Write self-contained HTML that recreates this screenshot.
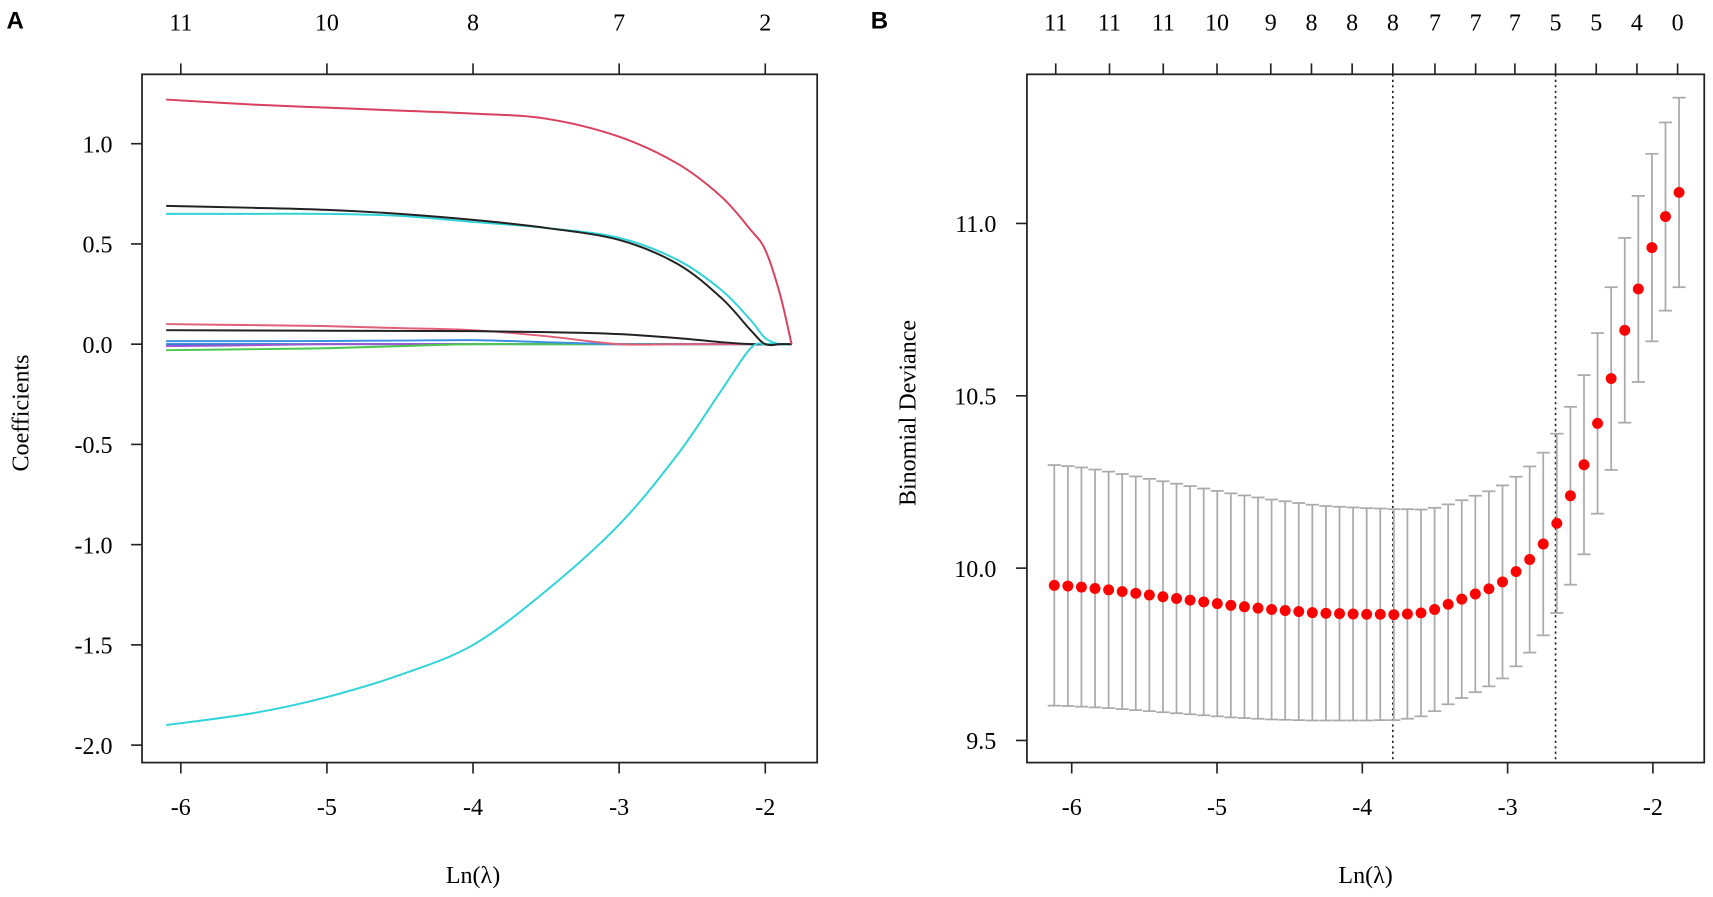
<!DOCTYPE html>
<html><head><meta charset="utf-8"><style>
html,body{margin:0;padding:0;background:#fff;}
svg{display:block;font-family:"Liberation Serif",serif;}
.pl{font-family:"Liberation Sans",sans-serif;font-weight:bold;font-size:22px;}
</style></head><body>
<svg id="fig" width="1713" height="897" viewBox="0 0 1568 821">
<g id="A"></g>
<g id="B"></g>
</svg>
<script>
// ---- Panel A data ----
const lnGridA = [-6.1,-5.5,-5,-4.5,-4,-3.5,-3,-2.6,-2.3,-2.1,-2.0,-1.9,-1.82];
const coefRed    = [1.22,1.195,1.18,1.165,1.15,1.125,1.035,0.90,0.735,0.57,0.47,0.25,0];
const coefBlack  = [0.69,0.68,0.67,0.65,0.62,0.58,0.52,0.40,0.23,0.07,0,0,0];
const coefCyanUp = [0.65,0.65,0.65,0.64,0.61,0.58,0.53,0.42,0.27,0.12,0.03,0,0];
const coefCyanLo = [-1.90,-1.84,-1.76,-1.65,-1.50,-1.23,-0.90,-0.55,-0.23,-0.02,0,0,0];
const coefPink   = [0.10,0.095,0.09,0.08,0.07,0.04,0,0,0,0,0,0,0];
const coefBlack2 = [0.07,0.068,0.067,0.066,0.065,0.06,0.05,0.03,0.01,0,0,0,0];
const coefBlue   = [0.015,0.015,0.016,0.018,0.02,0.01,0,0,0,0,0,0,0];
const coefGreen  = [-0.03,-0.025,-0.02,-0.01,0,0,0,0,0,0,0,0,0];
const coefPurple = [-0.01,-0.005,0,0,0,0,0,0,0,0,0,0,0];
const coefBlue0  = [0,0,0,0,0,0,0,0,0,0,0,0,0];
const seriesA = [
 ['coef-path-blue-zero',coefBlue0,'#2a7fd4'],['coef-path-purple',coefPurple,'#9b59d0'],
 ['coef-path-green',coefGreen,'#4cc84c'],['coef-path-blue',coefBlue,'#3a8ee6'],
 ['coef-path-pink',coefPink,'#e0607a'],['coef-path-black-small',coefBlack2,'#222'],
 ['coef-path-cyan-lower',coefCyanLo,'#2fd3d8'],['coef-path-cyan-upper',coefCyanUp,'#2fd3d8'],
 ['coef-path-black',coefBlack,'#222'],['coef-path-red',coefRed,'#d9405e']];
const xTicksA = [-6,-5,-4,-3,-2];
const topLabelsA = ['11','10','8','7','2'];
const yTicksA = [1.0,0.5,0.0,-0.5,-1.0,-1.5,-2.0];

// ---- Panel B data ----
const meanDev = [9.95,9.948,9.945,9.941,9.937,9.932,9.927,9.922,9.917,9.912,9.907,9.902,9.897,9.892,9.888,9.884,9.880,9.877,9.874,9.871,9.869,9.868,9.867,9.866,9.866,9.865,9.867,9.87,9.88,9.895,9.91,9.925,9.94,9.96,9.99,10.025,10.07,10.13,10.21,10.30,10.42,10.55,10.69,10.81,10.93,11.02,11.09];
const seDev = [0.349,0.348,0.347,0.345,0.343,0.341,0.339,0.337,0.335,0.333,0.331,0.329,0.327,0.325,0.323,0.321,0.319,0.317,0.315,0.313,0.311,0.310,0.309,0.308,0.307,0.306,0.304,0.30,0.295,0.29,0.287,0.285,0.283,0.28,0.275,0.27,0.265,0.26,0.258,0.26,0.262,0.265,0.268,0.27,0.272,0.273,0.275];
const lnStartB = -6.12, lnEndB = -1.82;
const xTicksB = [-6,-5,-4,-3,-2];
const yTicksB = [9.5,10.0,10.5,11.0];
const topLnB = [-6.11,-5.74,-5.37,-5.0,-4.63,-4.35,-4.07,-3.79,-3.5,-3.22,-2.95,-2.67,-2.39,-2.11,-1.83];
const topLabelsB = ['11','11','11','10','9','8','8','8','7','7','7','5','5','4','0'];
const lambdaMin = -3.79, lambda1se = -2.67;

const NS='http://www.w3.org/2000/svg';
function mk(parent,tag,attrs,name,txt){const e=document.createElementNS(NS,tag);for(const k in attrs)e.setAttribute(k,attrs[k]);


if(txt!==undefined)e.textContent=txt;parent.appendChild(e);return e;}
function smooth(p){let d='M'+p[0][0].toFixed(1)+','+p[0][1].toFixed(1);
 for(let i=0;i<p.length-1;i++){const p0=p[Math.max(0,i-1)],p1=p[i],p2=p[i+1],p3=p[Math.min(p.length-1,i+2)];
  const c1=[p1[0]+(p2[0]-p0[0])/6,p1[1]+(p2[1]-p0[1])/6],c2=[p2[0]-(p3[0]-p1[0])/6,p2[1]-(p3[1]-p1[1])/6];
  d+=' C'+c1.map(v=>v.toFixed(1)).join(',')+' '+c2.map(v=>v.toFixed(1)).join(',')+' '+p2[0].toFixed(1)+','+p2[1].toFixed(1);}
 return d;}

// Panel A
(function(){
 const g=document.getElementById('A');
 const X=v=>433+(v+4)*133.75, Y=v=>315-v*183.5;
 mk(g,'text',{x:6,y:26,class:'pl'},'panel-label-a','A');
 seriesA.forEach(s=>{
   const pts=lnGridA.map((l,i)=>[X(l),Y(s[1][i])]);
   mk(g,'path',{d:smooth(pts),fill:'none',stroke:s[2],'stroke-width':1.8},s[0]);
 });
 mk(g,'rect',{x:130,y:68,width:618,height:630,fill:'none',stroke:'#222','stroke-width':1.6},'plot-frame-a');
 xTicksA.forEach((t,i)=>{
   mk(g,'line',{x1:X(t),x2:X(t),y1:698,y2:708,stroke:'#222','stroke-width':1.5},'x-tick-a');
   mk(g,'text',{x:X(t),y:746,'text-anchor':'middle','font-size':22},'x-tick-label-a',String(t));
   mk(g,'line',{x1:X(t),x2:X(t),y1:68,y2:58,stroke:'#222','stroke-width':1.5},'top-tick-a');
   mk(g,'text',{x:X(t),y:28,'text-anchor':'middle','font-size':22},'top-count-label-a',topLabelsA[i]);
 });
 yTicksA.forEach(t=>{
   mk(g,'line',{x1:120,x2:130,y1:Y(t),y2:Y(t),stroke:'#222','stroke-width':1.5},'y-tick-a');
   mk(g,'text',{x:103,y:Y(t)+8,'text-anchor':'end','font-size':22},'y-tick-label-a',t.toFixed(1));
 });
 mk(g,'text',{x:433,y:808,'text-anchor':'middle','font-size':22},'x-axis-title-a','Ln(λ)');
 mk(g,'text',{x:26,y:378,'text-anchor':'middle','font-size':22,transform:'rotate(-90 26 378)'},'y-axis-title-a','Coefficients');
})();

// Panel B
(function(){
 const g=document.getElementById('B');
 const X=v=>1247+(v+4)*133, Y=v=>520-(v-10)*315.5;
 mk(g,'text',{x:797,y:26,class:'pl'},'panel-label-b','B');
 const n=meanDev.length;
 const lnAt=i=>lnStartB+(lnEndB-lnStartB)*i/(n-1);
 [lambdaMin,lambda1se].forEach((l,i)=>mk(g,'line',{x1:X(l),x2:X(l),y1:68,y2:698,stroke:'#222','stroke-width':1.5,'stroke-dasharray':'2,3'},i?'lambda-1se-line':'lambda-min-line'));
 meanDev.forEach((m,i)=>{
   const x=X(lnAt(i)),yu=Y(m+seDev[i]),yl=Y(m-seDev[i]);
   mk(g,'line',{x1:x,x2:x,y1:yu,y2:yl,stroke:'#aaa','stroke-width':1.6},'error-bar');
   mk(g,'line',{x1:x-6,x2:x+6,y1:yu,y2:yu,stroke:'#aaa','stroke-width':1.6},'error-cap-upper');
   mk(g,'line',{x1:x-6,x2:x+6,y1:yl,y2:yl,stroke:'#aaa','stroke-width':1.6},'error-cap-lower');
 });
 meanDev.forEach((m,i)=>mk(g,'circle',{cx:X(lnAt(i)),cy:Y(m),r:5,fill:'#f00'},'deviance-point'));
 mk(g,'rect',{x:940,y:68,width:620,height:630,fill:'none',stroke:'#222','stroke-width':1.6},'plot-frame-b');
 xTicksB.forEach(t=>{
   mk(g,'line',{x1:X(t),x2:X(t),y1:698,y2:708,stroke:'#222','stroke-width':1.5},'x-tick-b');
   mk(g,'text',{x:X(t),y:746,'text-anchor':'middle','font-size':22},'x-tick-label-b',String(t));
 });
 topLnB.forEach((l,i)=>{
   mk(g,'line',{x1:X(l),x2:X(l),y1:68,y2:58,stroke:'#222','stroke-width':1.5},'top-tick-b');
   mk(g,'text',{x:X(l),y:28,'text-anchor':'middle','font-size':22},'top-count-label-b',topLabelsB[i]);
 });
 yTicksB.forEach(t=>{
   mk(g,'line',{x1:930,x2:940,y1:Y(t),y2:Y(t),stroke:'#222','stroke-width':1.5},'y-tick-b');
   mk(g,'text',{x:912,y:Y(t)+8,'text-anchor':'end','font-size':22},'y-tick-label-b',t.toFixed(1));
 });
 mk(g,'text',{x:1250,y:808,'text-anchor':'middle','font-size':22},'x-axis-title-b','Ln(λ)');
 mk(g,'text',{x:838,y:378,'text-anchor':'middle','font-size':22,transform:'rotate(-90 838 378)'},'y-axis-title-b','Binomial Deviance');
})();
</script>
</body></html>
